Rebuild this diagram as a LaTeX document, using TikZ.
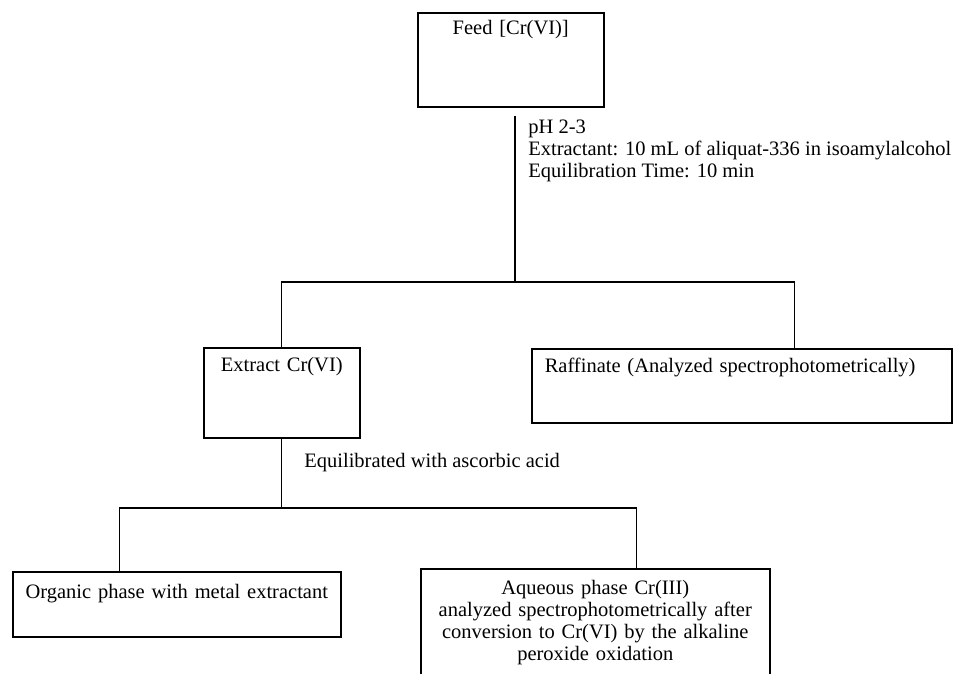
\documentclass[tikz,border=0pt]{standalone}
\usepackage{fontspec}
\setmainfont{Liberation Serif}
\usetikzlibrary{positioning}

\begin{document}
\begin{tikzpicture}[x=0.6pt,y=-0.6pt,
    font=\fontsize{12.3}{13.2}\selectfont,
    box/.style={draw, line width=0.9pt, anchor=north west, inner xsep=0pt, inner ysep=0pt, align=center},
    note/.style={inner sep=0pt, align=left},
    link/.style={line width=0.8pt}]
  \useasboundingbox (0,0) rectangle (960,673);

  \node[box, text width=111.6pt, text height=13pt, text depth=43.4pt] (feed) at (417,12) {Feed [Cr(VI)]};
  \node[note, anchor=north west] (cond) at (528,120)
    {pH 2-3\\Extractant: 10 mL of aliquat-336 in isoamylalcohol\\Equilibration Time: 10 min};

  \node[box, text width=93.6pt, text height=14.4pt, text depth=39.6pt] (extract) at (203,347) {Extract Cr(VI)};
  \node[box, align=left, inner xsep=7.8pt, text width=236.4pt, text height=14.4pt, text depth=30pt] (raff) at (531,348)
    {Raffinate (Analyzed spectrophotometrically)};
  \node[note, anchor=base west] (equil) at (304,467) {Equilibrated with ascorbic acid};

  \node[box, text width=196.8pt, text height=16.2pt, text depth=22.8pt] (organic) at (12,571) {Organic phase with metal extractant};
  \node[box, text width=209.4pt, inner ysep=7.2pt] (aqueous) at (420,568)
    {Aqueous phase Cr(III)\\analyzed spectrophotometrically after\\conversion to Cr(VI) by the alkaline\\peroxide oxidation};

  \coordinate (split1) at (515,282);
  \coordinate (split2) at (280,508);

  % feed splits into extract and raffinate
  \draw[link, shorten <=4.8pt] (feed.south -| split1) -- (split1);
  \draw[link] (extract.north) |- (split1) -| ([xshift=31.8pt]raff.north);

  % stripping of the extract
  \draw[link] (extract.south) -- (extract.south |- split2);
  \draw[link] ([xshift=-34.2pt]organic.north) |- (split2) -| ([xshift=24.9pt]aqueous.north);
\end{tikzpicture}
\end{document}
